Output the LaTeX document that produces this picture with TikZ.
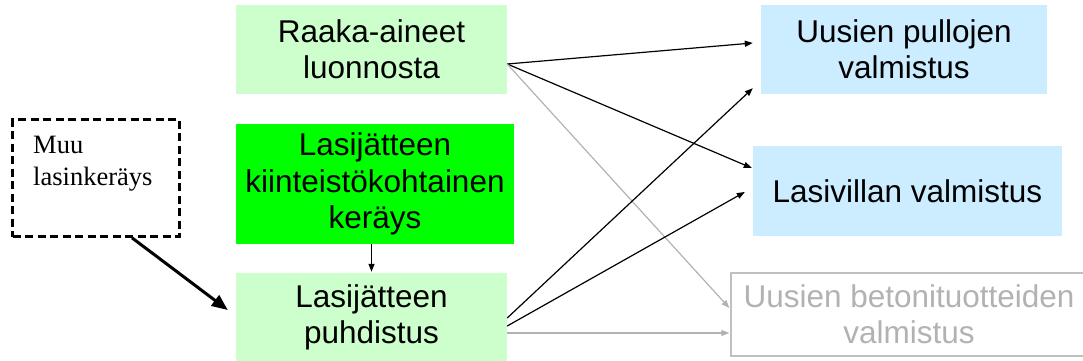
\documentclass[tikz,border=0pt]{standalone}
\usepackage{fontspec}
\setmainfont{Liberation Sans}
\newfontfamily\timesfont{Liberation Serif}
\usetikzlibrary{arrows.meta}
\definecolor{lightgreen}{HTML}{CCFFCC}
\definecolor{brightgreen}{HTML}{00FF00}
\definecolor{lightblue}{HTML}{CCECFF}
\definecolor{fadegray}{HTML}{B2B2B2}
\definecolor{boxgray}{HTML}{C0C0C0}
\begin{document}
\begin{tikzpicture}[x=1pt,y=-1pt,
  box/.style={rectangle, inner sep=0pt, align=center, font=\fontsize{31.5}{36.2}\selectfont},
  thinarrow/.style={draw=black, line width=1.2pt, -{Triangle[length=8pt,width=6pt]}},
  faintarrow/.style={draw=fadegray, line width=1.2pt, -{Triangle[length=8pt,width=6pt]}},
  thickarrow/.style={draw=black, line width=3pt, -{Triangle[length=16pt,width=13pt]}}]
\useasboundingbox (0,0) rectangle (1083,361);
\clip (0,0) rectangle (1083,361);

\node[box, fill=lightgreen, minimum width=271pt, minimum height=89pt] (raaka) at (371.5,49.5) {Raaka-aineet\\luonnosta};
\node[box, fill=brightgreen, minimum width=278pt, minimum height=120pt] (green) at (375,184) {Lasijätteen\\kiinteistökohtainen\\keräys};
\node[box, fill=lightgreen, minimum width=271pt, minimum height=89pt] (puhdistus) at (371.5,317.5) {Lasijätteen\\puhdistus};
\node[box, fill=lightblue, minimum width=286pt, minimum height=89pt] (pullojen) at (904,49.5) {Uusien pullojen\\valmistus};
\node[box, fill=lightblue, minimum width=309pt, minimum height=90pt] (lasivillan) at (907.5,191) {Lasivillan valmistus};
\node[box, draw=boxgray, line width=1.3pt, text=fadegray, minimum width=356pt, minimum height=83pt] (betoni) at (909,314.5) {Uusien betonituotteiden\\valmistus};
\node[rectangle, draw=black, dashed, dash pattern=on 8pt off 4.5pt, line width=2.7pt, minimum width=167pt, minimum height=117pt, inner sep=0pt] (muu) at (96,178) {};
\node[anchor=north west, align=left, inner sep=0pt, font=\timesfont\fontsize{26.5}{32}\selectfont] (muutext) at (33,136) {Muu\\lasinkeräys};

\draw[thinarrow] ([yshift=-14.5pt]raaka.east) -- ([xshift=-8pt,yshift=6.5pt]pullojen.west);
\draw[thinarrow] ([yshift=-14.5pt]raaka.east) -- ([xshift=-1pt,yshift=23pt]lasivillan.west);
\draw[faintarrow] ([yshift=-14.5pt]raaka.east) -- ([xshift=-1pt,yshift=6.5pt]betoni.west);
\draw[thinarrow] ([yshift=-0.5pt]puhdistus.east) -- ([xshift=-8pt,yshift=6pt]pullojen.south west);
\draw[thinarrow] ([yshift=-8.5pt]puhdistus.east) -- ([xshift=-8pt,yshift=-1pt]lasivillan.west);
\draw[faintarrow] ([yshift=-15.5pt]puhdistus.east) -- ([xshift=-1pt,yshift=-18.5pt]betoni.west);
\draw[thinarrow] (puhdistus.north |- green.south) -- ([yshift=1pt]puhdistus.north);
\draw[thickarrow] ([xshift=36pt]muu.south) -- ([xshift=-8pt,yshift=7.5pt]puhdistus.west);
\end{tikzpicture}
\end{document}
